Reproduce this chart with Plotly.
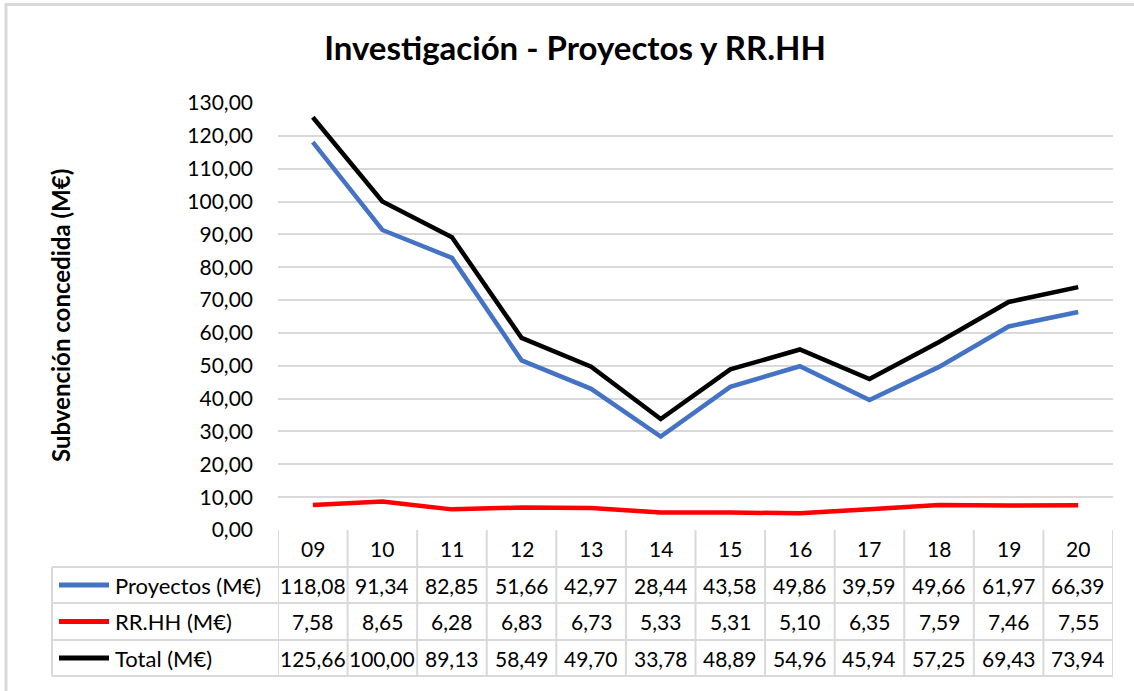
import plotly.graph_objects as go

years = ["09", "10", "11", "12", "13", "14", "15", "16", "17", "18", "19", "20"]
proyectos = [118.08, 91.34, 82.85, 51.66, 42.97, 28.44, 43.58, 49.86, 39.59, 49.66, 61.97, 66.39]
rrhh = [7.58, 8.65, 6.28, 6.83, 6.73, 5.33, 5.31, 5.10, 6.35, 7.59, 7.46, 7.55]
total = [125.66, 100.00, 89.13, 58.49, 49.70, 33.78, 48.89, 54.96, 45.94, 57.25, 69.43, 73.94]

series_names = ["Proyectos (M€)", "RR.HH (M€)", "Total (M€)"]
series_values = [proyectos, rrhh, total]
series_colors = ["#4472C4", "#FF0000", "#000000"]

W, H = 1134, 691
L, R, T, B = 278, 1113, 103, 530
FONT = "Lato"
GRID = "#d9d9d9"


def px(xp):
    return (xp - L) / (R - L)


def py(yp):
    return (B - yp) / (B - T)


def fmt(v):
    return f"{v:.2f}".replace(".", ",")


fig = go.Figure()
xs = list(range(len(years)))
for name, vals, col in zip(series_names, series_values, series_colors):
    fig.add_trace(go.Scatter(x=xs, y=vals, mode="lines", name=name,
                             line=dict(color=col, width=4.5), showlegend=False, hoverinfo="skip"))

shapes = []
annotations = []

# outer frame (left and top edges visible)
shapes.append(dict(type="line", xref="paper", yref="paper", x0=px(6), x1=px(6),
                   y0=py(691), y1=py(3), line=dict(color="#d9d9d9", width=3), layer="below"))
shapes.append(dict(type="line", xref="paper", yref="paper", x0=px(5), x1=px(1134),
                   y0=py(4.5), y1=py(4.5), line=dict(color="#d9d9d9", width=3), layer="below"))

# table
row_tops = [530, 567, 603, 640, 676]
n = len(years)
for i in range(n + 1):
    shapes.append(dict(type="line", xref="x", yref="paper", x0=i - 0.5, x1=i - 0.5,
                       y0=py(530), y1=py(676), line=dict(color=GRID, width=2)))
for yy in row_tops[1:]:
    shapes.append(dict(type="line", xref="paper", yref="paper", x0=px(52), x1=1,
                       y0=py(yy), y1=py(yy), line=dict(color=GRID, width=2)))
shapes.append(dict(type="line", xref="paper", yref="paper", x0=px(52), x1=px(52),
                   y0=py(567), y1=py(676), line=dict(color=GRID, width=2)))

TXT = dict(family=FONT, size=21, color="#000")
for i, yr in enumerate(years):
    annotations.append(dict(x=i, y=py(548.5), xref="x", yref="paper", text=yr, showarrow=False,
                            font=TXT, xanchor="center", yanchor="middle"))

for r, (name, vals, col) in enumerate(zip(series_names, series_values, series_colors)):
    yc = (row_tops[r + 1] + row_tops[r + 2]) / 2
    shapes.append(dict(type="line", xref="paper", yref="paper", x0=px(59), x1=px(109),
                       y0=py(yc), y1=py(yc), line=dict(color=col, width=5)))
    annotations.append(dict(x=px(113), y=py(yc), xref="paper", yref="paper", text=name, showarrow=False,
                            font=dict(family=FONT, size=22, color="#000"), xanchor="left", yanchor="middle"))
    for i, v in enumerate(vals):
        annotations.append(dict(x=i, y=py(yc), xref="x", yref="paper", text=fmt(v), showarrow=False,
                                font=TXT, xanchor="center", yanchor="middle"))

annotations.append(dict(x=px(60), y=py(316), xref="paper", yref="paper", text="<b>Subvención concedida (M€)</b>",
                        showarrow=False, textangle=-90, font=dict(family=FONT, size=24, color="#000"),
                        xanchor="center", yanchor="middle"))

fig.update_layout(
    width=W, height=H,
    margin=dict(l=L, r=W - R, t=T, b=H - B, pad=0),
    paper_bgcolor="white", plot_bgcolor="white",
    hovermode=False,
    title=dict(text="<b>Investigación - Proyectos y RR.HH</b>", x=575 / W, xref="container",
               y=1 - 48 / H, yref="container", xanchor="center", yanchor="middle",
               font=dict(family=FONT, size=33, color="#000")),
    xaxis=dict(range=[-0.5, n - 0.5], showticklabels=False, showgrid=False, zeroline=False,
               showline=False, ticks="", fixedrange=True),
    yaxis=dict(range=[0, 130], dtick=10, tickformat=".2f", showgrid=True, gridcolor=GRID, gridwidth=2,
               zeroline=False, showline=False, ticks="", ticklabelstandoff=24, fixedrange=True,
               tickfont=dict(family=FONT, size=21, color="#000")),
    separators=",.",
    shapes=shapes, annotations=annotations,
)

fig.write_html("out.html", config={"displayModeBar": False, "staticPlot": True},
               post_script="document.body.style.margin='0px';document.body.style.overflow='hidden';")
